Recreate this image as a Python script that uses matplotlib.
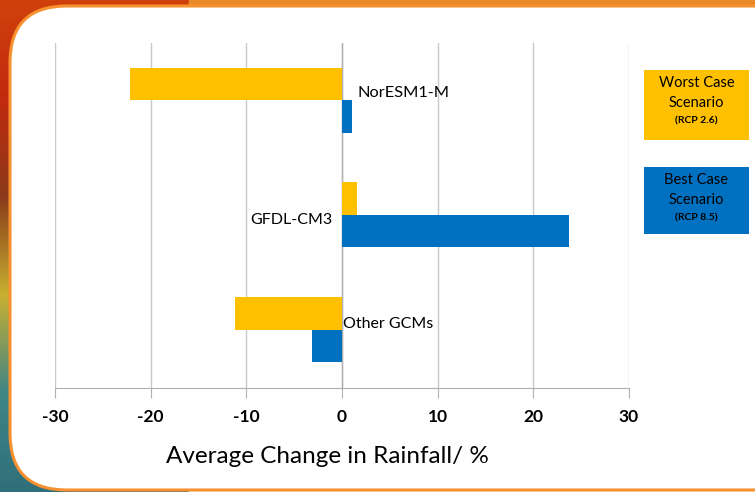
import numpy as np
import matplotlib.pyplot as plt
from matplotlib.patches import FancyBboxPatch, Rectangle
from matplotlib.colors import LinearSegmentedColormap

plt.rcParams['font.family'] = ['Lato', 'DejaVu Sans']

# data
models = ["Other GCMs", "GFDL-CM3", "NorESM1-M"]
worst_rcp26 = [-11.2, 1.6, -22.2]
best_rcp85 = [-3.1, 23.7, 1.05]
xticks = [-30, -20, -10, 0, 10, 20, 30]

YELLOW = "#FFC000"
BLUE = "#0070C0"
W, H = 755, 492

fig = plt.figure(figsize=(7.55, 4.92), dpi=100)

# slide-like background: gradient + white rounded panel
bg = fig.add_axes([0, 0, 1, 1], zorder=-10)
bg.set_axis_off()
grad = np.linspace(0, 1, 256)[:, None]
cmap = LinearSegmentedColormap.from_list(
    "bg", ["#d0400c", "#c22a0e", "#8a3a1a", "#c8b030", "#3f8585", "#2f6f7a"])
bg.imshow(grad, aspect="auto", cmap=cmap, extent=[0, 1, 0, 1], origin="upper")
bg.set_xlim(0, 1)
bg.set_ylim(0, 1)
bg.add_patch(Rectangle((0.25, 0.5), 0.75, 0.5, color="#e8892a", zorder=1))
bg.add_patch(Rectangle((0.25, 0.0), 0.75, 0.5, color="white", zorder=1))
panel = FancyBboxPatch((10 / W, 2 / H), 800 / W, 484 / H,
                       boxstyle="round,pad=0,rounding_size=0.075",
                       mutation_aspect=W / H,
                       facecolor="white", edgecolor="#f7902f", linewidth=2.2, zorder=2)
bg.add_patch(panel)

ax = fig.add_axes([55 / W, 104 / H, 574 / W, 345 / H])
ax.set_facecolor("none")
y = np.arange(len(models))
h = 0.284
ax.barh(y + h / 2, worst_rcp26, height=h, color=YELLOW, zorder=3)
ax.barh(y - h / 2, best_rcp85, height=h, color=BLUE, zorder=3)

ax.set_xlim(-30, 30)
ax.set_ylim(-0.51, 2.5)
ax.set_xticks(xticks)
ax.set_xticklabels([str(t) for t in xticks], fontsize=12.5, fontweight="bold")
ax.set_yticks([])
ax.grid(axis="x", color="#c8c8c8", linewidth=1.0, zorder=0)
for s in ("top", "right", "left"):
    ax.spines[s].set_visible(False)
ax.spines["bottom"].set_color("#b0b0b0")
ax.tick_params(axis="x", length=7, color="#b0b0b0", pad=8)
ax.axvline(0, color="#b0b0b0", linewidth=1.0, zorder=2)

# category labels next to the zero line
ax.text(1.6, 2.06, models[2], fontsize=11.8, va="center", ha="left", zorder=4)
ax.text(-1.0, 0.96, models[1], fontsize=11.5, va="center", ha="right", zorder=4)
ax.text(0.15, 0.05, models[0], fontsize=11.5, va="center", ha="left", zorder=4)

ax.set_xlabel("Average Change in Rainfall/ %", fontsize=17.5)
ax.xaxis.set_label_coords((327 - 55) / 574, (388 - 446) / 345)

# legend boxes
legend = [(70, 140, YELLOW, "Worst Case", "Scenario", "(RCP 2.6)"),
          (167, 234, BLUE, "Best Case", "Scenario", "(RCP 8.5)")]
for (top, bot, col, l1, l2, l3) in legend:
    fig.patches.append(Rectangle((644 / W, 1 - bot / H), 105 / W, (bot - top) / H,
                                 transform=fig.transFigure, facecolor=col,
                                 edgecolor="none", zorder=5))
    cx = 696.5 / W
    fig.text(cx, 1 - (top + 13) / H, l1, ha="center", va="center", fontsize=10.5, zorder=6)
    fig.text(cx, 1 - (top + 33) / H, l2, ha="center", va="center", fontsize=10.5, zorder=6)
    fig.text(cx, 1 - (top + 51) / H, l3, ha="center", va="center", fontsize=7.5,
             fontweight="bold", zorder=6)

fig.savefig("out.png", dpi=100)
